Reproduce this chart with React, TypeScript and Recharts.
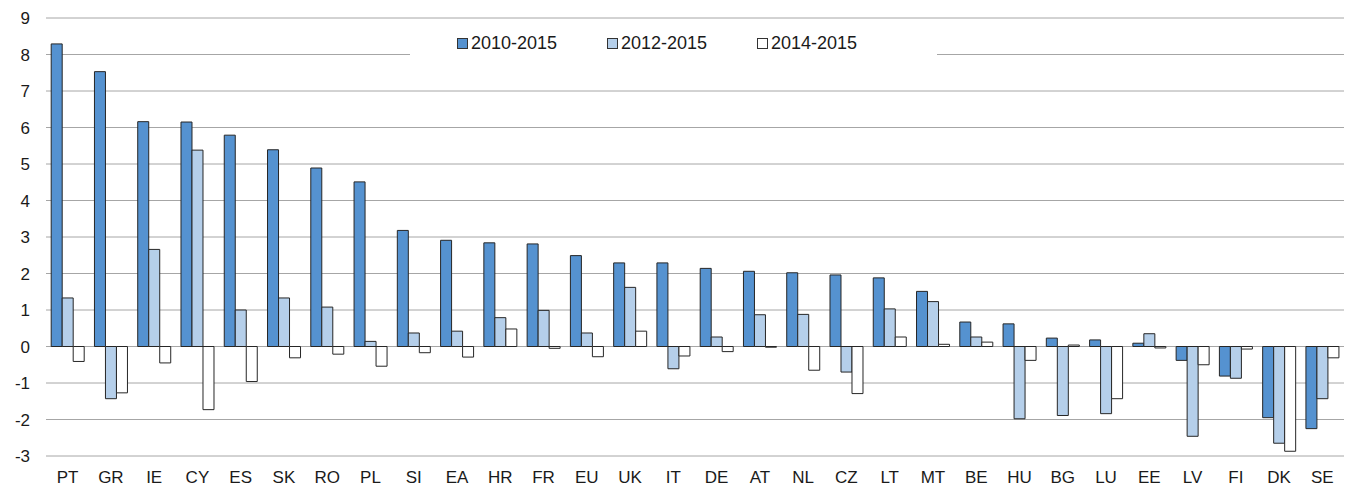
import React from 'react';
import { BarChart, Bar, XAxis, YAxis, CartesianGrid, Legend } from 'recharts';

const categories = ['PT','GR','IE','CY','ES','SK','RO','PL','SI','EA','HR','FR','EU','UK','IT','DE','AT','NL','CZ','LT','MT','BE','HU','BG','LU','EE','LV','FI','DK','SE'];
const s2010_2015 = [8.29,7.53,6.16,6.15,5.79,5.39,4.89,4.51,3.18,2.91,2.84,2.81,2.49,2.29,2.29,2.14,2.06,2.02,1.96,1.88,1.51,0.67,0.62,0.23,0.18,0.09,-0.38,-0.81,-1.95,-2.25];
const s2012_2015 = [1.33,-1.43,2.66,5.38,1.0,1.33,1.08,0.14,0.37,0.42,0.79,0.99,0.37,1.62,-0.61,0.26,0.87,0.88,-0.70,1.03,1.23,0.26,-1.98,-1.89,-1.84,0.35,-2.46,-0.87,-2.65,-1.43];
const s2014_2015 = [-0.41,-1.27,-0.45,-1.73,-0.96,-0.31,-0.21,-0.54,-0.17,-0.29,0.48,-0.05,-0.28,0.42,-0.26,-0.14,-0.02,-0.65,-1.29,0.26,0.06,0.12,-0.38,0.04,-1.43,-0.04,-0.50,-0.07,-2.87,-0.31];
const yTicks = [-3,-2,-1,0,1,2,3,4,5,6,7,8,9];

const seriesNames = ['2010-2015','2012-2015','2014-2015'];
const colors = ['#5592d0','#b5cfea','#ffffff'];

const data = categories.map((c, i) => ({
  name: c,
  a: s2010_2015[i],
  b: s2012_2015[i],
  c: s2014_2015[i],
}));

const font = 'Liberation Sans, Arial, sans-serif';

const LegendContent = () => (
  <div style={{ position: 'relative', width: 527, height: 34, background: '#ffffff' }}>
    {seriesNames.map((n, i) => (
      <div key={n} style={{ position: 'absolute', left: 47 + i * 150, top: 0, height: 26, display: 'flex', alignItems: 'center' }}>
        <div style={{ width: 9, height: 9, background: colors[i], border: '1px solid #333', marginRight: 3 }} />
        <span style={{ fontFamily: font, fontSize: 18, color: '#1a1a1a', lineHeight: '26px' }}>{n}</span>
      </div>
    ))}
  </div>
);

export default function App() {
  return (
    <div style={{ position: 'absolute', left: 0, top: 0, background: '#fff' }}>
      <BarChart
        width={1348}
        height={487}
        data={data}
        margin={{ top: 18, right: 4, bottom: 0, left: 0 }}
        barCategoryGap="12%"
        barGap={0}
      >
        <CartesianGrid vertical={false} stroke="#a6a6a6" strokeWidth={1} />
        <XAxis
          dataKey="name"
          axisLine={false}
          tickLine={false}
          height={31}
          tickMargin={9}
          interval={0}
          tick={{ fill: '#1a1a1a', fontSize: 17, fontFamily: font }}
        />
        <YAxis
          domain={[-3, 9]}
          ticks={yTicks}
          axisLine={false}
          tickLine={false}
          width={46}
          tickMargin={10}
          interval={0}
          tick={{ fill: '#1a1a1a', fontSize: 17, fontFamily: font }}
        />
        <Legend
          verticalAlign="middle"
          align="center"
          layout="horizontal"
          content={<LegendContent />}
          wrapperStyle={{ top: 30, left: 410, width: 527, height: 34 }}
        />
        <Bar dataKey="a" name={seriesNames[0]} fill={colors[0]} stroke="#262626" strokeWidth={1} isAnimationActive={false} />
        <Bar dataKey="b" name={seriesNames[1]} fill={colors[1]} stroke="#262626" strokeWidth={1} isAnimationActive={false} />
        <Bar dataKey="c" name={seriesNames[2]} fill={colors[2]} stroke="#262626" strokeWidth={1} isAnimationActive={false} />
      </BarChart>
    </div>
  );
}
